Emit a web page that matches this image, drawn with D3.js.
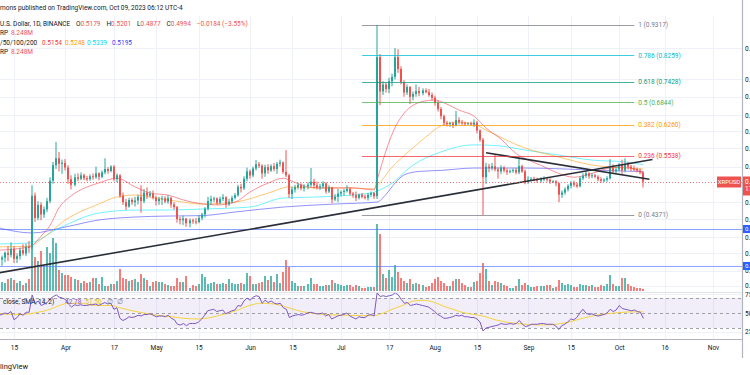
<!DOCTYPE html>
<html>
<head>
<meta charset="utf-8">
<script src="https://cdn.jsdelivr.net/npm/d3@7"></script>
<style>
  body { margin: 0; background: #fff; }
  svg { display: block; font-family: Roboto, "Noto Sans", sans-serif; }
</style>
</head>
<body>
<svg id="chart" width="750" height="375"></svg>
<script>
// XRP / U.S. Dollar, 1D, BINANCE
const firstDay = "2023-03-10";
const lastDay = "2023-10-09";

const opens = [
  0.372,0.366,0.369,0.376,0.373,0.382,0.367,0.371,0.380,0.375,0.385, 0.384,0.472,0.432,0.455,0.438,0.447,0.462,0.501,0.533,0.548,0.536,
  0.538,0.528,0.504,0.493,0.508,0.505,0.512,0.506,0.504,0.510, 0.508,0.516,0.509,0.518,0.525,0.521,0.530,0.504,0.512,0.472, 0.460,0.452,0.464,0.460,0.463,0.470,0.462,0.478,0.472,0.476,
  0.468,0.462,0.466,0.467,0.461,0.468,0.456,0.451,0.430,0.428, 0.431,0.423,0.428,0.426,0.425,0.432,0.438,0.448,0.462,0.466, 0.467,0.459,0.466,0.469,0.456,0.461,0.468,0.473,0.489,0.486,0.505,
  0.520,0.512,0.526,0.535,0.532,0.516,0.529,0.522,0.531,0.525, 0.536,0.539,0.519,0.512,0.475,0.484,0.488,0.493,0.486,0.490, 0.493,0.499,0.492,0.488,0.490,0.496,0.480,0.488,0.465,0.470,
  0.476,0.479,0.481,0.485,0.476,0.473,0.468,0.474,0.470,0.468, 0.474,0.477,0.471,0.820,0.715,0.735,0.722,0.745,0.758,0.820, 0.782,0.742,0.712,0.728,0.700,0.708,0.716,0.710,0.718,0.713,0.705,
  0.697,0.683,0.667,0.648,0.631,0.628,0.630,0.625,0.638,0.632, 0.630,0.628,0.630,0.627,0.632,0.612,0.590,0.508,0.530,0.527, 0.531,0.524,0.520,0.528,0.522,0.519,0.521,0.523,0.518,0.531,0.520,
  0.500,0.503,0.505,0.504,0.501,0.504,0.505,0.503,0.499,0.500, 0.496,0.474,0.478,0.484,0.491,0.497,0.493,0.490,0.506,0.511, 0.516,0.510,0.512,0.509,0.504,0.501,0.503,0.506,0.528,0.520,
  0.524,0.534,0.522,0.536,0.530,0.526,0.525,0.522,0.5179
];
const highs = [
  0.376,0.372,0.378,0.386,0.392,0.386,0.375,0.384,0.389,0.390,0.394, 0.492,0.478,0.462,0.460,0.452,0.468,0.508,0.540,0.585,0.562,0.545,
  0.546,0.533,0.512,0.515,0.516,0.518,0.515,0.511,0.514,0.516, 0.530,0.518,0.522,0.548,0.529,0.533,0.533,0.516,0.514,0.478, 0.466,0.468,0.468,0.470,0.474,0.492,0.485,0.488,0.481,0.482,
  0.472,0.470,0.472,0.471,0.473,0.470,0.460,0.453,0.434,0.436, 0.432,0.431,0.431,0.432,0.437,0.441,0.451,0.470,0.472,0.470, 0.469,0.470,0.475,0.471,0.466,0.472,0.477,0.493,0.495,0.510,0.528,
  0.524,0.530,0.544,0.540,0.535,0.534,0.535,0.535,0.538,0.540, 0.545,0.541,0.566,0.515,0.489,0.493,0.497,0.496,0.494,0.498, 0.527,0.505,0.499,0.495,0.500,0.498,0.492,0.489,0.475,0.485,
  0.482,0.485,0.492,0.488,0.479,0.480,0.476,0.477,0.474,0.477, 0.480,0.479,0.9317,0.830,0.745,0.742,0.755,0.768,0.850,0.846, 0.790,0.748,0.735,0.730,0.715,0.735,0.728,0.724,0.724,0.722,0.712,
  0.703,0.690,0.672,0.652,0.636,0.634,0.634,0.662,0.645,0.638, 0.634,0.632,0.634,0.640,0.636,0.615,0.594,0.538,0.536,0.538, 0.555,0.528,0.533,0.531,0.526,0.524,0.526,0.527,0.550,0.534,0.524,
  0.510,0.508,0.509,0.507,0.508,0.510,0.509,0.506,0.502,0.502, 0.497,0.482,0.488,0.494,0.500,0.501,0.497,0.510,0.516,0.520, 0.518,0.516,0.515,0.512,0.508,0.506,0.510,0.546,0.535,0.528,
  0.538,0.545,0.548,0.540,0.534,0.532,0.528,0.526,0.5201
];
const lows = [
  0.354,0.357,0.362,0.364,0.369,0.361,0.361,0.366,0.372,0.371,0.376, 0.381,0.425,0.428,0.428,0.432,0.442,0.458,0.495,0.525,0.520,0.515,
  0.522,0.495,0.484,0.490,0.500,0.502,0.502,0.500,0.501,0.503, 0.505,0.502,0.506,0.514,0.515,0.518,0.500,0.498,0.468,0.455, 0.446,0.450,0.455,0.452,0.456,0.441,0.458,0.466,0.469,0.465,
  0.454,0.455,0.455,0.458,0.457,0.450,0.447,0.424,0.421,0.420, 0.417,0.416,0.422,0.421,0.423,0.428,0.433,0.445,0.455,0.460, 0.455,0.456,0.462,0.450,0.453,0.458,0.465,0.470,0.478,0.483,0.500,
  0.505,0.508,0.522,0.527,0.505,0.509,0.515,0.519,0.520,0.515, 0.530,0.515,0.508,0.468,0.466,0.478,0.484,0.482,0.480,0.484, 0.489,0.486,0.484,0.483,0.486,0.476,0.477,0.458,0.462,0.460,
  0.471,0.472,0.478,0.472,0.468,0.462,0.465,0.467,0.465,0.463, 0.470,0.466,0.466,0.677,0.705,0.712,0.710,0.730,0.750,0.770, 0.735,0.700,0.705,0.680,0.690,0.700,0.702,0.704,0.710,0.700,0.690,
  0.676,0.660,0.640,0.624,0.622,0.621,0.618,0.622,0.627,0.626, 0.624,0.625,0.624,0.621,0.605,0.585,0.4371,0.495,0.518,0.522, 0.520,0.505,0.515,0.518,0.513,0.516,0.517,0.514,0.514,0.517,0.494,
  0.495,0.500,0.500,0.497,0.497,0.500,0.499,0.495,0.496,0.490, 0.460,0.468,0.474,0.480,0.486,0.489,0.487,0.488,0.502,0.507, 0.505,0.506,0.506,0.500,0.497,0.498,0.499,0.503,0.515,0.516,
  0.520,0.515,0.518,0.524,0.520,0.520,0.518,0.514,0.4877
];
const closes = [
  0.366,0.369,0.376,0.373,0.382,0.367,0.371,0.380,0.375,0.385,0.384, 0.472,0.432,0.455,0.438,0.447,0.462,0.501,0.533,0.548,0.536,0.538,
  0.528,0.504,0.493,0.508,0.505,0.512,0.506,0.504,0.510,0.508, 0.516,0.509,0.518,0.525,0.521,0.530,0.504,0.512,0.472,0.460, 0.452,0.464,0.460,0.463,0.470,0.462,0.478,0.472,0.476,0.468,
  0.462,0.466,0.467,0.461,0.468,0.456,0.451,0.430,0.428,0.431, 0.423,0.428,0.426,0.425,0.432,0.438,0.448,0.462,0.466,0.467, 0.459,0.466,0.469,0.456,0.461,0.468,0.473,0.489,0.486,0.505,0.520,
  0.512,0.526,0.535,0.532,0.516,0.529,0.522,0.531,0.525,0.536, 0.539,0.519,0.512,0.475,0.484,0.488,0.493,0.486,0.490,0.493, 0.499,0.492,0.488,0.490,0.496,0.480,0.488,0.465,0.470,0.476,
  0.479,0.481,0.485,0.476,0.473,0.468,0.474,0.470,0.468,0.474, 0.477,0.471,0.820,0.715,0.735,0.722,0.745,0.758,0.820,0.782, 0.742,0.712,0.728,0.700,0.708,0.716,0.710,0.718,0.713,0.705,0.697,
  0.683,0.667,0.648,0.631,0.628,0.630,0.625,0.638,0.632,0.630, 0.628,0.630,0.627,0.632,0.612,0.590,0.508,0.530,0.527,0.531, 0.524,0.520,0.528,0.522,0.519,0.521,0.523,0.518,0.531,0.520,0.500,
  0.503,0.505,0.504,0.501,0.504,0.505,0.503,0.499,0.500,0.496, 0.474,0.478,0.484,0.491,0.497,0.493,0.490,0.506,0.511,0.516, 0.510,0.512,0.509,0.504,0.501,0.503,0.506,0.528,0.520,0.524,
  0.534,0.522,0.536,0.530,0.526,0.525,0.522,0.5179,0.4994
];
// volume, millions of XRP
const volumes = [
  76,36,32,48,52,44,32,40,24,32,48, 232,136,120,160,100,176,152,212,192,84,72,
  64,64,56,48,44,32,40,32,36,52, 52,28,56,20,20,28,28,40,88,52, 48,40,44,48,36,68,52,44,20,36,
  40,36,36,28,24,20,20,52,36,36, 60,12,24,20,28,68,56,28,32,36, 28,28,32,28,48,32,28,28,32,28,72,
  60,28,28,32,36,60,44,60,36,68, 32,76,124,96,40,32,20,20,20,28, 52,28,28,20,20,24,24,44,32,28,
  24,20,24,24,16,24,20,12,12,16, 16,16,268,228,68,52,84,56,104,76, 52,40,32,48,28,32,28,24,16,20,32,
  48,56,40,32,20,20,40,48,48,32, 24,16,16,36,40,72,112,88,40,24, 40,36,32,24,20,12,12,20,48,24,32,
  24,16,16,20,20,20,24,24,12,16, 44,32,24,28,24,16,16,28,24,24, 20,24,16,16,24,20,28,64,28,20,
  20,52,52,28,20,16,12,12,8.248
];
const rsiVals = [
  47,48,50,49,52,41,44,49,47,51,51, 74,63,66,60,62,64,69,72,74,71,70,
  68,62,58,61,60,61,60,60,61,61, 62,60,62,64,62,63,55,57,43,40, 42,45,44,45,47,46,48,48,49,47,
  45,46,46,45,47,43,41,35,34,36, 33,36,36,36,38,42,47,53,54,55, 52,53,54,49,51,53,54,60,59,66,70,
  67,71,73,72,63,67,64,66,63,62, 63,57,55,44,46,47,48,47,48,50, 51,50,49,49,50,46,48,42,44,46,
  47,48,50,46,44,42,45,44,44,47, 48,46,77,72,73,72,73,74,77,74, 68,63,64,60,61,62,61,60,59,58,55,
  52,48,46,43,43,44,45,47,46,47, 45,45,44,44,42,38,26,30,31,32, 33,34,36,35,35,36,35,36,40,35,32,
  33,35,35,35,36,36,35,35,35,33, 28,33,35,38,42,41,44,50,55,50, 48,49,47,46,47,48,50,55,52,54,
  60,56,55,54,53,54,52,51,42.78
];

// moving averages 20/50/100/200
const ma20Dates = ["2023-03-10","2023-03-20","2023-03-24","2023-03-27","2023-03-30","2023-04-02","2023-04-06","2023-04-12","2023-04-18","2023-04-24","2023-04-29","2023-05-05","2023-05-10","2023-05-16","2023-05-21","2023-05-27","2023-06-01","2023-06-07","2023-06-12","2023-06-14","2023-06-18","2023-06-23","2023-06-29","2023-07-05","2023-07-12","2023-07-13","2023-07-16","2023-07-19","2023-07-22","2023-07-28","2023-08-01","2023-08-05","2023-08-09","2023-08-14","2023-08-18","2023-08-23","2023-08-28","2023-09-01","2023-09-05","2023-09-11","2023-09-16","2023-09-22","2023-09-28","2023-10-03","2023-10-09"];
const ma20 = [0.380,0.385,0.402,0.420,0.451,0.468,0.483,0.4965,0.506,0.489,0.477,0.473,0.464,0.457,0.455,0.460,0.479,0.4965,0.506,0.5025,0.4925,0.487,0.487,0.487,0.483,0.5025,0.566,0.6205,0.656,0.687,0.691,0.680,0.664,0.648,0.618,0.591,0.558,0.544,0.533,0.516,0.508,0.516,0.527,0.529,0.5154];
const ma50Dates = ["2023-03-10","2023-03-20","2023-03-25","2023-04-01","2023-04-12","2023-04-18","2023-04-24","2023-04-29","2023-05-10","2023-05-16","2023-05-27","2023-06-07","2023-06-14","2023-06-23","2023-07-04","2023-07-12","2023-07-13","2023-07-18","2023-07-24","2023-07-29","2023-08-03","2023-08-09","2023-08-14","2023-08-18","2023-08-31","2023-09-11","2023-09-22","2023-10-03","2023-10-09"];
const ma50 = [0.385,0.386,0.4005,0.4285,0.4566,0.4696,0.4733,0.4696,0.460,0.4566,0.460,0.477,0.4887,0.4867,0.4867,0.485,0.491,0.529,0.566,0.596,0.623,0.633,0.628,0.613,0.5705,0.5507,0.5334,0.527,0.5248];
const ma100Dates = ["2023-03-10","2023-03-20","2023-03-30","2023-04-12","2023-04-24","2023-05-05","2023-05-16","2023-06-01","2023-06-12","2023-06-23","2023-07-11","2023-07-13","2023-07-18","2023-07-24","2023-08-03","2023-08-14","2023-08-22","2023-08-31","2023-09-11","2023-09-22","2023-10-03","2023-10-09"];
const ma100 = [0.3895,0.391,0.4151,0.4405,0.4458,0.4458,0.4476,0.4512,0.4677,0.4696,0.4771,0.481,0.4965,0.5292,0.5617,0.578,0.576,0.566,0.555,0.544,0.540,0.5339];
const ma200Dates = ["2023-03-10","2023-03-21","2023-04-01","2023-04-12","2023-04-24","2023-05-05","2023-05-16","2023-05-27","2023-06-12","2023-06-29","2023-07-13","2023-07-16","2023-07-19","2023-07-22","2023-07-27","2023-08-03","2023-08-14","2023-08-31","2023-09-22","2023-10-09"];
const ma200 = [0.4151,0.4069,0.4167,0.4285,0.4336,0.4353,0.436,0.4423,0.4512,0.4566,0.4603,0.475,0.497,0.513,0.520,0.522,0.527,0.527,0.5229,0.5195];

// RSI signal (SMA 14 of RSI)
const sigDates = ["2023-03-10","2023-03-17","2023-03-23","2023-03-27","2023-03-30","2023-04-02","2023-04-06","2023-04-09","2023-04-13","2023-04-16","2023-04-19","2023-04-23","2023-04-27","2023-05-02","2023-05-06","2023-05-10","2023-05-15","2023-05-19","2023-05-23","2023-05-28","2023-05-31","2023-06-05","2023-06-09","2023-06-13","2023-06-18","2023-06-23","2023-06-28","2023-07-03","2023-07-08","2023-07-12","2023-07-15","2023-07-18","2023-07-22","2023-07-25","2023-07-28","2023-08-01","2023-08-04","2023-08-07","2023-08-10","2023-08-14","2023-08-17","2023-08-21","2023-08-26","2023-08-31","2023-09-06","2023-09-11","2023-09-14","2023-09-18","2023-09-22","2023-09-26","2023-10-01","2023-10-05","2023-10-09"];
const sigVals = [49,48,51,55,60,63,63,61,60,60,57,53,50,46.5,45,43,42,44,48,54,59,63,62,58,52,49,47.5,47,46.5,46.5,50,55,61,66,67,64,59,55,51,48,46,41,37,35,34,35.5,37.5,42,46,48.5,50.5,51.5,51.5];

// drawings
const fibRatios = ["1", "0.786", "0.618", "0.5", "0.382", "0.236", "0"];
const fibPrices = [0.9317, 0.8259, 0.7428, 0.6844, 0.6260, 0.5538, 0.4371];
const fibSpan = ["2023-07-08", "2023-10-06"];
const trendUp = [["2023-03-10", 0.3471], ["2023-10-12", 0.5454]];
const trendDown = [["2023-08-18", 0.5601], ["2023-10-11", 0.5039]];
const hLevels = [0.4134, 0.3570];

// axes
const priceTicks = [0.85, 0.75, 0.70, 0.65, 0.61, 0.57, 0.53, 0.46, 0.43, 0.40, 0.375, 0.35, 0.33];
const rsiTicks = [75, 50, 25];
const tickDates = ["2023-03-15","2023-04-01","2023-04-17","2023-05-01","2023-05-15","2023-06-01","2023-06-15","2023-07-01","2023-07-17","2023-08-01","2023-08-15","2023-09-01","2023-09-15","2023-10-01","2023-10-16","2023-11-01"];
const tickLabels = ["15","Apr","17","May","15","Jun","15","Jul","17","Aug","15","Sep","15","Oct","16","Nov"];

const parse = d3.utcParse("%Y-%m-%d");
const days = d3.utcDay.range(parse(firstDay), d3.utcDay.offset(parse(lastDay), 1));
const bars = days.map((d, i) => ({ date: d, o: opens[i], h: highs[i], l: lows[i], c: closes[i], v: volumes[i], r: rsiVals[i] }));
const series = (ds, vs) => ds.map((d, i) => ({ date: parse(d), v: vs[i] }));

const paneR = 742;
const x = d3.scaleUtc().domain([parse("2023-03-15"), parse("2023-11-01")]).range([14, 713]);
const y = d3.scaleLog().domain([0.4371, 0.9317]).range([215, 25]);
const yVol = d3.scaleLinear().domain([0, 268]).range([291, 224]);
const yRsi = d3.scaleLinear().domain([25, 75]).range([331.75, 294.25]);

const up = "#26a69a", down = "#ef5350";
const col = d => d.c >= d.o ? up : down;
const cx = d => Math.round(x(d.date));
const FS = 6.5;

const svg = d3.select("#chart");
const defs = svg.append("defs");
defs.append("clipPath").attr("id", "clipMain").append("rect")
  .attr("x", 0).attr("y", 16).attr("width", paneR).attr("height", 276);
defs.append("clipPath").attr("id", "clipRsi").append("rect")
  .attr("x", 0).attr("y", 293).attr("width", paneR).attr("height", 46);
defs.append("clipPath").attr("id", "clipAxis").append("rect")
  .attr("x", paneR).attr("y", 0).attr("width", 750 - paneR).attr("height", 375);

// grid
const grid = svg.append("g");
grid.selectAll("line.v").data(tickDates).join("line").attr("class", "v")
  .attr("x1", d => Math.round(x(parse(d))) + 0.5).attr("x2", d => Math.round(x(parse(d))) + 0.5)
  .attr("y1", 16).attr("y2", 339).attr("stroke", "#eef1f7");
grid.selectAll("line.h").data(priceTicks).join("line").attr("class", "h")
  .attr("x1", 0).attr("x2", paneR)
  .attr("y1", d => Math.round(y(d)) + 0.5).attr("y2", d => Math.round(y(d)) + 0.5)
  .attr("stroke", "#eef1f7");
grid.selectAll("line.r").data([75, 25]).join("line").attr("class", "r")
  .attr("x1", 0).attr("x2", paneR)
  .attr("y1", d => Math.round(yRsi(d)) + 0.5).attr("y2", d => Math.round(yRsi(d)) + 0.5)
  .attr("stroke", "#eef1f7");

const main = svg.append("g").attr("clip-path", "url(#clipMain)");

// volume
main.append("g").selectAll("rect").data(bars).join("rect")
  .attr("x", d => cx(d) - 1).attr("width", 2)
  .attr("y", d => yVol(d.v)).attr("height", d => yVol(0) - yVol(d.v))
  .attr("fill", col).attr("opacity", 0.75);

// horizontal levels
main.append("g").selectAll("line").data(hLevels).join("line")
  .attr("x1", 0).attr("x2", paneR)
  .attr("y1", d => Math.round(y(d)) + 0.5).attr("y2", d => Math.round(y(d)) + 0.5)
  .attr("stroke", "#5c7cfa").attr("stroke-width", 1.2).attr("opacity", 0.7);

// moving averages
const maLine = d3.line().x(d => x(d.date)).y(d => y(d.v)).curve(d3.curveMonotoneX);
const mas = [
  [series(ma200Dates, ma200), "#3b3bf5"],
  [series(ma100Dates, ma100), "#00e5ff"],
  [series(ma50Dates, ma50), "#ff9800"],
  [series(ma20Dates, ma20), "#f23645"]
];
main.append("g").selectAll("path").data(mas).join("path")
  .attr("d", d => maLine(d[0])).attr("fill", "none")
  .attr("stroke", d => d[1]).attr("stroke-width", 1).attr("opacity", 0.55);

// candles
const candles = main.append("g");
candles.selectAll("line").data(bars).join("line")
  .attr("x1", d => cx(d)).attr("x2", d => cx(d))
  .attr("y1", d => y(d.h)).attr("y2", d => y(d.l))
  .attr("stroke", col).attr("stroke-width", 1);
candles.selectAll("rect").data(bars).join("rect")
  .attr("x", d => cx(d) - 1).attr("width", 2)
  .attr("y", d => y(Math.max(d.o, d.c)))
  .attr("height", d => Math.max(1, Math.abs(y(d.o) - y(d.c))))
  .attr("fill", col);

// trend lines
const tLine = d3.line().x(d => x(parse(d[0]))).y(d => y(d[1]));
main.append("g").selectAll("path").data([trendUp, trendDown]).join("path")
  .attr("d", tLine).attr("fill", "none").attr("stroke", "#2a2e39").attr("stroke-width", 1.6);

// fibonacci retracement
const fibColors = ["#787b86", "#00bcd4", "#089981", "#4caf50", "#ff9800", "#f23645", "#787b86"];
const fx0 = x(parse(fibSpan[0])), fx1 = x(parse(fibSpan[1]));
const fib = svg.append("g");
fib.selectAll("line").data(fibPrices).join("line")
  .attr("x1", fx0).attr("x2", fx1)
  .attr("y1", d => Math.round(y(d)) + 0.5).attr("y2", d => Math.round(y(d)) + 0.5)
  .attr("stroke", (d, i) => fibColors[i]).attr("stroke-width", 1).attr("opacity", 0.75);
fib.selectAll("text").data(fibPrices).join("text")
  .attr("x", fx1 + 4).attr("y", d => y(d)).attr("dy", "0.35em")
  .attr("font-size", FS).attr("fill", (d, i) => fibColors[i])
  .text((d, i) => `${fibRatios[i]} (${d.toFixed(4)})`);

// last price line
const last = bars[bars.length - 1];
svg.append("line").attr("x1", 0).attr("x2", paneR)
  .attr("y1", Math.round(y(last.c)) + 0.5).attr("y2", Math.round(y(last.c)) + 0.5)
  .attr("stroke", down).attr("stroke-dasharray", "1,2").attr("opacity", 0.8);

// RSI pane
const rsiG = svg.append("g").attr("clip-path", "url(#clipRsi)");
rsiG.append("rect").attr("x", 0).attr("width", paneR)
  .attr("y", yRsi(70)).attr("height", yRsi(30) - yRsi(70))
  .attr("fill", "#7e57c2").attr("opacity", 0.1);
rsiG.selectAll("line").data([70, 50, 30]).join("line")
  .attr("x1", 0).attr("x2", paneR)
  .attr("y1", d => Math.round(yRsi(d)) + 0.5).attr("y2", d => Math.round(yRsi(d)) + 0.5)
  .attr("stroke", "#787b86").attr("stroke-dasharray", "3,3").attr("opacity", 0.7);
rsiG.append("path").datum(series(sigDates, sigVals))
  .attr("d", d3.line().x(d => x(d.date)).y(d => yRsi(d.v)).curve(d3.curveMonotoneX))
  .attr("fill", "none").attr("stroke", "#f5d33d").attr("stroke-width", 1);
rsiG.append("path").datum(bars)
  .attr("d", d3.line().x(d => x(d.date)).y(d => yRsi(d.r)))
  .attr("fill", "none").attr("stroke", "#7e57c2").attr("stroke-width", 1);

// pane borders
svg.append("line").attr("x1", 0).attr("x2", paneR).attr("y1", 292.5).attr("y2", 292.5).attr("stroke", "#e0e3eb");
svg.append("line").attr("x1", 0).attr("x2", paneR).attr("y1", 339.5).attr("y2", 339.5).attr("stroke", "#b2b5be").attr("stroke-width", 1.2);
svg.append("line").attr("x1", paneR + 0.5).attr("x2", paneR + 0.5).attr("y1", 0).attr("y2", 358).attr("stroke", "#b2b5be").attr("stroke-width", 1.2);

// right price axis (the screenshot cuts it off at the frame)
const axisArea = svg.append("g").attr("clip-path", "url(#clipAxis)");
const yAxis = d3.axisRight(y).tickValues(priceTicks).tickFormat(d3.format(".4f")).tickSize(0).tickPadding(3);
const gy = axisArea.append("g").attr("transform", `translate(${paneR},0)`).call(yAxis);
gy.select(".domain").remove();
gy.attr("font-size", FS).attr("font-family", null);
gy.selectAll("text").attr("fill", "#131722");
const rAxis = d3.axisRight(yRsi).tickValues(rsiTicks).tickFormat(d3.format(".2f")).tickSize(0).tickPadding(3);
const gr = axisArea.append("g").attr("transform", `translate(${paneR},0)`).call(rAxis);
gr.select(".domain").remove();
gr.attr("font-size", FS).attr("font-family", null);
gr.selectAll("text").attr("fill", "#131722");

// axis labels for drawings
const tags = axisArea.append("g").attr("font-size", FS).attr("fill", "#fff");
hLevels.forEach(p => {
  const yy = Math.round(y(p));
  tags.append("rect").attr("x", paneR + 1).attr("y", yy - 4).attr("width", 10).attr("height", 8).attr("fill", "#2962ff");
  tags.append("text").attr("x", paneR + 3).attr("y", yy - 0.5).attr("dy", "0.35em").attr("font-size", 6).text(p.toFixed(4));
});
const ly = Math.round(y(last.c));
tags.append("rect").attr("x", paneR + 1).attr("y", ly - 5.5).attr("width", 10).attr("height", 19).attr("fill", down);
tags.append("text").attr("x", paneR + 3).attr("y", ly).attr("dy", "0.35em").text(last.c.toFixed(4));
tags.append("text").attr("x", paneR + 3).attr("y", ly + 7).attr("dy", "0.35em").text("17:47:52");
svg.append("rect").attr("x", 717).attr("y", ly - 5.5).attr("width", 24).attr("height", 11).attr("fill", down);
svg.append("text").attr("x", 729).attr("y", ly).attr("dy", "0.35em").attr("text-anchor", "middle")
  .attr("font-size", 6).attr("fill", "#fff").text("XRPUSD");

// time axis
const xAxis = d3.axisBottom(x).tickValues(tickDates.map(parse)).tickFormat((d, i) => tickLabels[i]).tickSize(0).tickPadding(0);
const gx = svg.append("g").attr("transform", "translate(0,345)").call(xAxis);
gx.select(".domain").remove();
gx.attr("font-size", FS).attr("font-family", null);
gx.selectAll("text").attr("fill", "#131722");

// header legend
const hdr = svg.append("g").attr("font-size", FS);
hdr.append("text").attr("x", 0).attr("y", 8).attr("dy", "0.35em").attr("fill", "#131722")
  .text("mons published on TradingView.com, Oct 09, 2023 06:12 UTC-4");
hdr.append("text").attr("x", 0).attr("y", 24).attr("dy", "0.35em").attr("fill", "#131722").text("U.S. Dollar, 1D, BINANCE");
const ohlcText = hdr.append("text").attr("x", 76).attr("y", 24).attr("dy", "0.35em");
[["O", last.o], ["H", last.h], ["L", last.l], ["C", last.c]].forEach(([k, v], i) => {
  ohlcText.append("tspan").attr("fill", "#131722").attr("dx", i ? 6 : 0).text(k);
  ohlcText.append("tspan").attr("fill", down).text(v.toFixed(4));
});
ohlcText.append("tspan").attr("fill", down).attr("dx", 6).text("\u22120.0184 (\u22123.55%)");
[33, 52].forEach(yy => {
  hdr.append("text").attr("x", 0).attr("y", yy).attr("dy", "0.35em").attr("fill", "#131722").text("RP");
  hdr.append("text").attr("x", 11).attr("y", yy).attr("dy", "0.35em").attr("fill", down).text(last.v + "M");
});
hdr.append("text").attr("x", 0).attr("y", 43).attr("dy", "0.35em").attr("fill", "#131722").text("/50/100/200");
[[ma20, "#f23645", 42], [ma50, "#ff9800", 65], [ma100, "#00d8f0", 87], [ma200, "#3b3bf5", 112]].forEach(([arr, c, px]) => {
  hdr.append("text").attr("x", px).attr("y", 43).attr("dy", "0.35em").attr("fill", c).text(arr[arr.length - 1].toFixed(4));
});

// RSI legend
const rl = svg.append("g").attr("font-size", FS);
rl.append("text").attr("x", 3).attr("y", 302).attr("dy", "0.35em").attr("fill", "#131722").text("close, SMA, 14, 2)");
const rv = rl.append("text").attr("x", 65).attr("y", 302).attr("dy", "0.35em");
rv.append("tspan").attr("fill", "#7e57c2").text(last.r.toFixed(2));
rv.append("tspan").attr("fill", "#e8c020").attr("dx", 4).text(sigVals[sigVals.length - 1].toFixed(2));
rv.append("tspan").attr("fill", "#787b86").attr("dx", 5).text("\u2205");
rv.append("tspan").attr("fill", "#787b86").attr("dx", 4).text("\u2205");

// footer logo text
svg.append("text").attr("x", 0).attr("y", 366).attr("dy", "0.35em").attr("font-size", 7.5)
  .attr("fill", "#131722").text("lingView");
</script>
</body>
</html>
